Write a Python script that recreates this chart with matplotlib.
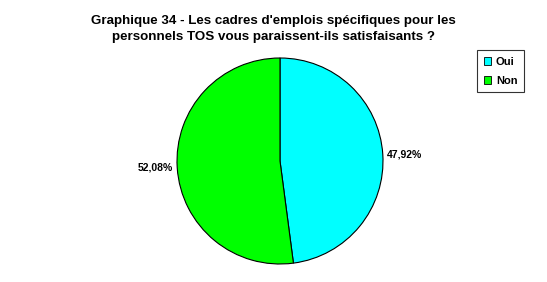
import matplotlib
matplotlib.use("Agg")
import matplotlib.pyplot as plt
from matplotlib.patches import Patch

categories = ["Oui", "Non"]
values = [47.92, 52.08]
colors = ["#00FFFF", "#00FF00"]
value_labels = ["47,92%", "52,08%"]
title = "Graphique 34 - Les cadres d'emplois spécifiques pour les\npersonnels TOS vous paraissent-ils satisfaisants ?"

W, H = 547, 282
fig = plt.figure(figsize=(W/100, H/100), dpi=100)
plt.rcParams['font.family'] = ['Liberation Sans', 'DejaVu Sans']

cx, cy, r = 280, 282-161, 103
ax = fig.add_axes([(cx-r)/W, (cy-r)/H, 2*r/W, 2*r/H])
wedges, texts = ax.pie(values, colors=colors, startangle=90, counterclock=False,
                       labels=value_labels, labeldistance=1.04,
                       wedgeprops=dict(edgecolor="black", linewidth=0.8),
                       textprops=dict(fontsize=7.5, fontweight="bold"))
ax.set_xlim(-1, 1)
ax.set_ylim(-1, 1)
ax.set_aspect("equal")
for t in texts:
    t.set_clip_on(False)

fig.text(0.5, 1 - 29/H, title, ha="center", va="center", fontsize=9.6,
         fontweight="bold", linespacing=1.45)

handles = [Patch(facecolor=c, edgecolor="black", linewidth=0.6) for c in colors]
leg = fig.legend(handles, categories, loc="upper left",
                 bbox_to_anchor=(477/W, 1 - 50/H), frameon=True, fancybox=False,
                 prop=dict(size=8, weight="bold"), handlelength=0.7, handleheight=0.7,
                 handletextpad=0.4, borderpad=0.6, labelspacing=0.8, borderaxespad=0)
leg.get_frame().set_edgecolor("black")
leg.get_frame().set_linewidth(0.8)

fig.savefig("out.png", dpi=100)
